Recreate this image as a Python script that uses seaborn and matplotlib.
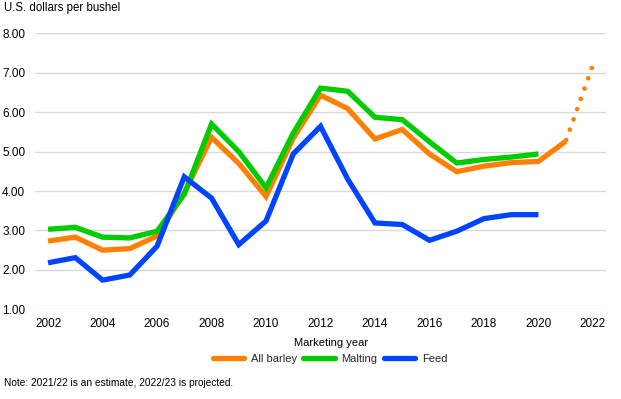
import numpy as np
import pandas as pd
import matplotlib
matplotlib.use("Agg")
import matplotlib.pyplot as plt
import seaborn as sns
from matplotlib.lines import Line2D

years = list(range(2002, 2022))
all_barley = [2.73, 2.83, 2.50, 2.54, 2.86, 3.95, 5.36, 4.70, 3.86, 5.34,
              6.43, 6.09, 5.32, 5.56, 4.94, 4.49, 4.63, 4.72, 4.75, 5.26]
malting_years = list(range(2002, 2021))
malting = [3.03, 3.08, 2.83, 2.81, 2.98, 3.92, 5.70, 5.00, 4.08, 5.47,
           6.61, 6.53, 5.87, 5.81, 5.25, 4.71, 4.80, 4.86, 4.94]
feed_years = list(range(2002, 2021))
feed = [2.18, 2.31, 1.74, 1.87, 2.60, 4.36, 3.82, 2.64, 3.24, 4.94,
        5.64, 4.30, 3.19, 3.15, 2.75, 2.98, 3.30, 3.40, 3.40]
proj_years = [2021, 2022]
proj_values = [5.26, 7.20]

series_names = ["All barley", "Malting", "Feed"]
colors = {"All barley": "#FF8000", "Malting": "#00CC00", "Feed": "#0044FF"}
y_ticks = [1, 2, 3, 4, 5, 6, 7, 8]
x_ticks = list(range(2002, 2023, 2))

df = pd.concat([
    pd.DataFrame({"year": years, "price": all_barley, "series": "All barley"}),
    pd.DataFrame({"year": malting_years, "price": malting, "series": "Malting"}),
    pd.DataFrame({"year": feed_years, "price": feed, "series": "Feed"}),
])
df_proj = pd.DataFrame({"year": proj_years, "price": proj_values})

sns.set_theme(style="white")
plt.rcParams["font.family"] = ["Liberation Sans", "DejaVu Sans"]

fig = plt.figure(figsize=(6.21, 3.99), dpi=100)
ax = fig.add_axes([35 / 621, 1 - 309.3 / 399, (606 - 35) / 621, (309.3 - 33.3) / 399])

lw = 3.8
sns.lineplot(data=df, x="year", y="price", hue="series", hue_order=series_names,
             palette=colors, linewidth=lw, ax=ax, legend=False, clip_on=False,
             solid_capstyle="butt", solid_joinstyle="miter")
sns.lineplot(data=df_proj, x="year", y="price", color=colors["All barley"],
             linewidth=3.4, ax=ax, legend=False, clip_on=False)
proj_line = ax.lines[-1]
proj_line.set_linestyle((2.0, (0.01, 2.3)))
proj_line.set_dash_capstyle("round")

ax.set_xlim(2001.52, 2022.48)
ax.set_ylim(1, 8)
ax.set_yticks(y_ticks)
ax.set_yticklabels([f"{v:.2f}" for v in y_ticks])
ax.set_xticks(x_ticks)
ax.set_xticklabels([str(v) for v in x_ticks])
ax.grid(axis="y", color="#D9D9D9", linewidth=1.0)
ax.grid(axis="x", visible=False)
ax.set_axisbelow(True)
for s in ax.spines.values():
    s.set_visible(False)
ax.tick_params(axis="both", length=0, labelsize=8.5, colors="#000000")
ax.tick_params(axis="y", pad=7)
ax.tick_params(axis="x", pad=6.5)
ax.set_xlabel("")
ax.set_ylabel("")

fig.text(4 / 621, 1 - 8 / 399, "U.S. dollars per bushel", fontsize=8.3,
         ha="left", va="center", color="#000000")
fig.text(331 / 621, 1 - 343 / 399, "Marketing year", fontsize=8.0,
         ha="center", va="center", color="#000000")
fig.text(4 / 621, 1 - 383 / 399, "Note: 2021/22 is an estimate, 2022/23 is projected.",
         fontsize=7.3, ha="left", va="center", color="#000000")

handles = [Line2D([0], [0], color=colors[n], linewidth=lw) for n in series_names]
fig.legend(handles, series_names, loc="center", bbox_to_anchor=(330 / 621, 1 - 359 / 399),
           ncol=3, frameon=False, fontsize=8.0, handlelength=2.8, handletextpad=0.6,
           columnspacing=0.6)

fig.savefig("out.png", dpi=100)
